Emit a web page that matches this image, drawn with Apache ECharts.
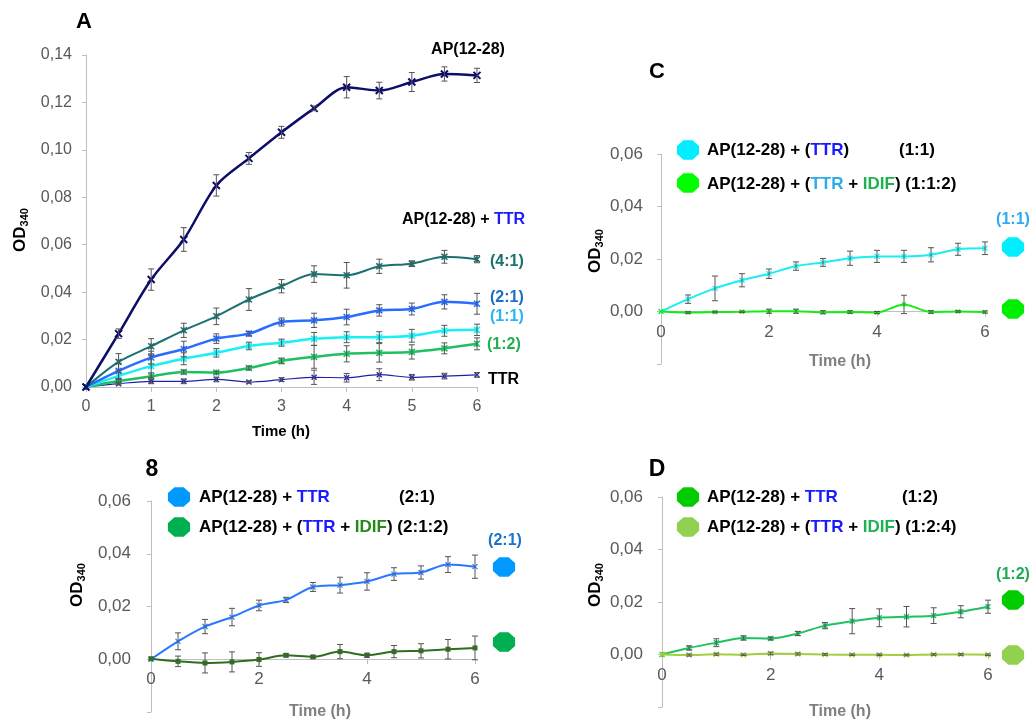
<!DOCTYPE html>
<html><head><meta charset="utf-8">
<script src="https://cdn.jsdelivr.net/npm/echarts@6/dist/echarts.min.js"></script>
<style>html,body{margin:0;padding:0;background:#fff}#c{width:1031px;height:721px}</style>
</head><body><div id="c"></div>
<script>
// ---------- data ----------
const times = [0, 0.5, 1, 1.5, 2, 2.5, 3, 3.5, 4, 4.5, 5, 5.5, 6];
// Panel A
const apOnly    = [0, 0.0225, 0.0453, 0.0622, 0.085, 0.0964, 0.1074, 0.1175, 0.1264, 0.125, 0.1286, 0.132, 0.1314];
const apOnlyErr = [0, 0.002, 0.0045, 0.005, 0.0045, 0.0025, 0.0025, 0.001, 0.0045, 0.0035, 0.004, 0.003, 0.003];
const r41       = [0, 0.0106, 0.0172, 0.0239, 0.0298, 0.0369, 0.0425, 0.0476, 0.0471, 0.0509, 0.052, 0.0549, 0.0539];
const r41Err    = [0, 0.0035, 0.0032, 0.003, 0.0035, 0.0046, 0.0028, 0.0035, 0.0054, 0.003, 0.0012, 0.0027, 0.0015];
const r21       = [0, 0.0068, 0.0124, 0.016, 0.0204, 0.0225, 0.0274, 0.0281, 0.0295, 0.0323, 0.0329, 0.0359, 0.0351];
const r21Err    = [0, 0.0032, 0.0027, 0.0033, 0.002, 0.001, 0.0017, 0.003, 0.0033, 0.0024, 0.0025, 0.003, 0.0044];
const r11       = [0, 0.0047, 0.0088, 0.0119, 0.0144, 0.0173, 0.0187, 0.0203, 0.021, 0.021, 0.0216, 0.0237, 0.0241];
const r11Err    = [0, 0.0016, 0.0047, 0.0025, 0.0018, 0.0016, 0.0015, 0.0027, 0.0023, 0.0023, 0.0027, 0.0023, 0.0024];
const r12       = [0, 0.0025, 0.0045, 0.0063, 0.0061, 0.008, 0.011, 0.0127, 0.014, 0.0144, 0.0148, 0.0163, 0.0182];
const r12Err    = [0, 0.0008, 0.0015, 0.0008, 0.0005, 0.0008, 0.0012, 0.0048, 0.0034, 0.0039, 0.003, 0.0023, 0.0025];
const ttrOnly   = [0, 0.0014, 0.0024, 0.0024, 0.0032, 0.0021, 0.0031, 0.0041, 0.0039, 0.0052, 0.0041, 0.0046, 0.0051];
const ttrOnlyErr= [0, 0.0005, 0.001, 0.001, 0.001, 0.0005, 0.0008, 0.003, 0.0018, 0.0025, 0.0012, 0.0012, 0.001];
// Panel C (1:1:2)
const idifC     = [0, -0.0004, -0.0002, -0.0001, 0.0001, 0.0001, -0.0003, -0.0002, -0.0004, 0.0027, -0.0002, 0, -0.0002];
const idifCErr  = [0, 0.0003, 0.0003, 0.0003, 0.0008, 0.0008, 0.0006, 0.0005, 0.0004, 0.0035, 0.0005, 0.0003, 0.0004];
// Panel B (2:1:2)
const idifB     = [0.0002, -0.0008, -0.0014, -0.001, -0.0001, 0.0015, 0.0009, 0.0029, 0.0015, 0.0029, 0.0032, 0.0038, 0.0043];
const idifBErr  = [0, 0.002, 0.0038, 0.0038, 0.0026, 0.0006, 0.0005, 0.0027, 0.0008, 0.0023, 0.0027, 0.0037, 0.0045];
// Panel D (1:2:4)
const idifD     = [0, -0.0002, 0.0001, -0.0001, 0.0004, 0.0002, 0, -0.0001, -0.0001, -0.0002, 0, 0, -0.0001];
const idifDErr  = [0, 0.0004, 0.0004, 0.0003, 0.0005, 0.0004, 0.0003, 0.0003, 0.0003, 0.0003, 0.0003, 0.0003, 0.0003];
// tick labels / texts
const timeLabel = 'Time (h)';
const panelTitles = ['A', 'C', '8', 'D'];

// ---------- helpers ----------
const fam = '"Liberation Sans", Arial, sans-serif';
const XPATH = 'path://M0,0L10,10M10,0L0,10';
const STAR = 'path://M0,0L10,10M10,0L0,10M5,0L5,10';
function fmt(v) { if (v < -1e-9) return ''; return v.toFixed(2).replace('.', ','); }

const grids = [
  { left: 86, top: 55, width: 391, height: 332 },
  { left: 661, top: 154, width: 324, height: 210 },
  { left: 151, top: 501, width: 324, height: 211 },
  { left: 662, top: 497, width: 326, height: 210 }
];

function lineSeries(gi, vals, color, width, symbol, size, bw) {
  return {
    type: 'line', xAxisIndex: gi, yAxisIndex: gi, smooth: 0.3, z: 3,
    data: times.map((t, i) => [t, vals[i]]),
    lineStyle: { color: color, width: width },
    symbol: symbol, symbolSize: size,
    itemStyle: { color: symbol === 'rect' ? color : 'rgba(0,0,0,0)', borderColor: color, borderWidth: bw },
    emphasis: { disabled: true }, animation: false
  };
}
function errSeries(gi, vals, errs) {
  return {
    type: 'custom', xAxisIndex: gi, yAxisIndex: gi, z: 4, animation: false,
    data: times.map((t, i) => [t, vals[i] - errs[i], vals[i] + errs[i], errs[i]]),
    renderItem: function (params, api) {
      if (api.value(3) <= 0) return null;
      const lo = api.coord([api.value(0), api.value(1)]);
      const hi = api.coord([api.value(0), api.value(2)]);
      const st = { stroke: '#555', lineWidth: 1 };
      return { type: 'group', children: [
        { type: 'line', shape: { x1: lo[0], y1: lo[1], x2: hi[0], y2: hi[1] }, style: st },
        { type: 'line', shape: { x1: lo[0] - 3, y1: lo[1], x2: lo[0] + 3, y2: lo[1] }, style: st },
        { type: 'line', shape: { x1: hi[0] - 3, y1: hi[1], x2: hi[0] + 3, y2: hi[1] }, style: st }
      ]};
    }
  };
}
// zeroFrac: fraction of grid height between the bottom (y min) and y = 0
function xAx(gi, interval, fs, zeroFrac) {
  return { gridIndex: gi, type: 'value', min: 0, max: 6, interval: interval,
    offset: -grids[gi].height * zeroFrac,
    axisLine: { show: true, onZero: false, lineStyle: { color: '#bfbfbf', width: 1 } },
    axisTick: { show: true, length: 5, lineStyle: { color: '#bfbfbf' } },
    axisLabel: { color: '#595959', fontSize: fs, fontFamily: fam, margin: 12 },
    splitLine: { show: false } };
}
function yAx(gi, min, max, fs, margin) {
  return { gridIndex: gi, type: 'value', min: min, max: max, interval: 0.02,
    axisLine: { show: true, lineStyle: { color: '#bfbfbf', width: 1 } },
    axisTick: { show: true, length: 4, lineStyle: { color: '#bfbfbf' } },
    axisLabel: { color: '#595959', fontSize: fs, fontFamily: fam, margin: margin, formatter: fmt },
    splitLine: { show: false } };
}
function txt(x, y, text, o) {
  return { type: 'text', x: x, y: y, z: 10,
    style: Object.assign({ text: text, fontFamily: fam, fontSize: 16, fontWeight: 'bold', fill: '#000',
      align: 'left', verticalAlign: 'middle' }, o || {}) };
}
function rt(c) { return { fill: c, color: c, fontFamily: fam, fontSize: 17, fontWeight: 'bold' }; }
function richTxt(x, y, text, extra) {
  const rich = Object.assign({ k: rt('#000'), b: rt('#1a1aff'), lb: rt('#29aee8'), g: rt('#1fb050'), dg: rt('#238a1a') }, extra || {});
  return { type: 'text', x: x, y: y, z: 10, style: { text: text, rich: rich, align: 'left', verticalAlign: 'middle', fontFamily: fam, fontSize: 17, fontWeight: 'bold' } };
}
function oct(cx, cy, rx, ry, color) {
  const pts = [];
  for (let k = 0; k < 8; k++) { const a = Math.PI / 8 + k * Math.PI / 4; pts.push([cx + rx * Math.cos(a), cy + ry * Math.sin(a)]); }
  return { type: 'polygon', z: 10, shape: { points: pts }, style: { fill: color } };
}
function odName(x, y) {
  return { type: 'text', x: x, y: y, rotation: Math.PI / 2, z: 10,
    style: { text: '{a|OD}{s|340}', align: 'center', verticalAlign: 'middle',
      rich: { a: { fill: '#000', fontFamily: fam, fontSize: 17, fontWeight: 'bold', lineHeight: 20 },
              s: { fill: '#000', fontFamily: fam, fontSize: 11, fontWeight: 'bold', lineHeight: 20, padding: [9, 0, 0, 0] } } } };
}

// ---------- option ----------
const option = {
  backgroundColor: '#fff',
  animation: false,
  grid: grids,
  xAxis: [xAx(0, 1, 16, 0), xAx(1, 2, 17, 0.25), xAx(2, 2, 17, 0.25), xAx(3, 2, 17, 0.25)],
  yAxis: [yAx(0, 0, 0.14, 16, 14), yAx(1, -0.02, 0.06, 17, 18), yAx(2, -0.02, 0.06, 17, 20), yAx(3, -0.02, 0.06, 17, 19)],
  series: [
    // A
    lineSeries(0, ttrOnly, '#2020a8', 1.2, XPATH, 5, 1.3),
    lineSeries(0, r12, '#1fbf63', 2.5, STAR, 6, 1.5),
    lineSeries(0, r11, '#19f0f5', 2.5, STAR, 6, 1.5),
    lineSeries(0, r21, '#2a6cff', 2.5, STAR, 6, 1.5),
    lineSeries(0, r41, '#1b7070', 2, STAR, 6, 1.5),
    lineSeries(0, apOnly, '#0d0d6b', 2.5, XPATH, 7, 2),
    errSeries(0, ttrOnly, ttrOnlyErr), errSeries(0, r12, r12Err), errSeries(0, r11, r11Err),
    errSeries(0, r21, r21Err), errSeries(0, r41, r41Err), errSeries(0, apOnly, apOnlyErr),
    // C
    lineSeries(1, r11, '#19eef5', 2, XPATH, 5, 1.2),
    lineSeries(1, idifC, '#14ee14', 2, XPATH, 4, 1.2),
    errSeries(1, r11, r11Err), errSeries(1, idifC, idifCErr),
    // B
    lineSeries(2, r21, '#2a78ff', 2, XPATH, 5, 1.2),
    lineSeries(2, idifB, '#2f6f1f', 2, 'rect', 5, 0),
    errSeries(2, r21, r21Err), errSeries(2, idifB, idifBErr),
    // D
    lineSeries(3, r12, '#20c063', 2, STAR, 5, 1.3),
    lineSeries(3, idifD, '#a4cf3c', 2, XPATH, 5, 1.2),
    errSeries(3, r12, r12Err), errSeries(3, idifD, idifDErr)
  ],
  graphic: [
    // panel titles
    txt(84, 22, panelTitles[0], { fontSize: 22, align: 'center' }),
    txt(657, 72, panelTitles[1], { fontSize: 22, align: 'center' }),
    txt(152, 470, panelTitles[2], { fontSize: 23, align: 'center' }),
    txt(657, 470, panelTitles[3], { fontSize: 23, align: 'center' }),
    // axis names
    odName(20, 230), odName(595, 251), odName(77, 585), odName(595, 585),
    txt(281, 432, timeLabel, { fontSize: 15, align: 'center' }),
    txt(840, 362, timeLabel, { fontSize: 16, align: 'center', fill: '#7f7f7f' }),
    txt(320, 712, timeLabel, { fontSize: 16, align: 'center', fill: '#7f7f7f' }),
    txt(840, 712, timeLabel, { fontSize: 16, align: 'center', fill: '#7f7f7f' }),
    // panel A series labels
    txt(468, 50, 'AP(12-28)', { align: 'center' }),
    richTxt(402, 220, '{k|AP(12-28) + }{b|TTR}', { k: Object.assign(rt('#000'), { fontSize: 16 }), b: Object.assign(rt('#1a1aff'), { fontSize: 16 }) }),
    txt(490, 262, '(4:1)', { fill: '#1b7070' }),
    txt(490, 298, '(2:1)', { fill: '#1a6fc8' }),
    txt(490, 317, '(1:1)', { fill: '#29b6f0' }),
    txt(487, 345, '(1:2)', { fill: '#20b050' }),
    txt(488, 380, 'TTR', { fill: '#000' }),
    // panel C legend
    oct(688, 150, 12, 10.5, '#00eeff'), oct(688, 183, 12, 10.5, '#00ff00'),
    richTxt(707, 150, '{k|AP(12-28) + (}{b|TTR}{k|)}'),
    txt(899, 150, '(1:1)', { fontSize: 17 }),
    richTxt(707, 184, '{k|AP(12-28) + (}{lb|TTR}{k| + }{g|IDIF}{k|) (1:1:2)}'),
    oct(1013, 247, 12, 10.5, '#00eeff'), oct(1013, 309, 12, 10.5, '#00ee00'),
    txt(1013, 220, '(1:1)', { align: 'center', fill: '#33aaee' }),
    // panel B legend
    oct(179, 497, 12, 10.5, '#0099ff'), oct(179, 527, 12, 10.5, '#00b050'),
    richTxt(199, 497, '{k|AP(12-28) + }{b|TTR}'),
    txt(399, 497, '(2:1)', { fontSize: 17 }),
    richTxt(199, 527, '{k|AP(12-28) + (}{b|TTR}{k| + }{dg|IDIF}{k|) (2:1:2)}'),
    oct(504, 567, 12, 10.5, '#0099ff'), oct(504, 642, 12, 10.5, '#00b050'),
    txt(505, 541, '(2:1)', { align: 'center', fill: '#1a75c8' }),
    // panel D legend
    oct(688, 497, 12, 10.5, '#00cc00'), oct(688, 527, 12, 10.5, '#92d050'),
    richTxt(707, 497, '{k|AP(12-28) + }{b|TTR}'),
    txt(902, 497, '(1:2)', { fontSize: 17 }),
    richTxt(707, 527, '{k|AP(12-28) + (}{b|TTR}{k| + }{g|IDIF}{k|) (1:2:4)}'),
    oct(1013, 600, 12, 10.5, '#00cc00'), oct(1013, 655, 12, 10.5, '#92d050'),
    txt(1013, 575, '(1:2)', { align: 'center', fill: '#1faa55' })
  ]
};
const chart = echarts.init(document.getElementById('c'), null, { renderer: 'canvas' });
chart.setOption(option);
</script>
</body></html>
